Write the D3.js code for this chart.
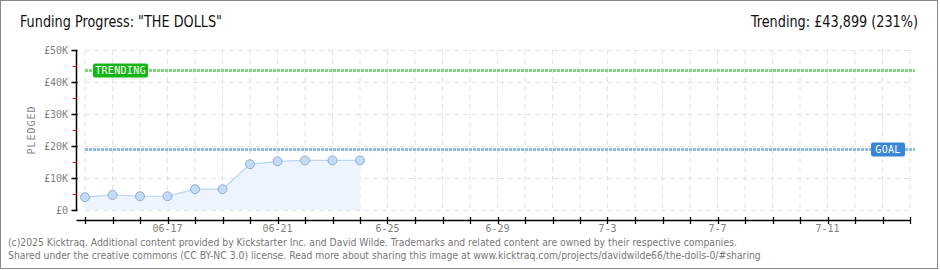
<!DOCTYPE html>
<html>
<head>
<meta charset="utf-8">
<script src="https://cdn.jsdelivr.net/npm/d3@7"></script>
<style>
  body { margin: 0; background: #fff; }
  svg { display: block; }
</style>
</head>
<body>
<svg class="vis" width="940" height="270"></svg>
<script>

// data
const days = d3.timeDays(new Date(2025, 5, 14), new Date(2025, 6, 15));
const pledged = [4000, 4700, 4300, 4300, 6500, 6500, 14300, 15200, 15500, 15500, 15500];
const goal = 19000;
const trending = 43899;
const yTicks = [0, 10000, 20000, 30000, 40000, 50000];
const yMinor = [5000, 15000, 25000, 35000, 45000];
const xLabels = [
    { day: new Date(2025, 5, 17), text: "06-17" },
    { day: new Date(2025, 5, 21), text: "06-21" },
    { day: new Date(2025, 5, 25), text: "6-25" },
    { day: new Date(2025, 5, 29), text: "6-29" },
    { day: new Date(2025, 6, 3), text: "7-3" },
    { day: new Date(2025, 6, 7), text: "7-7" },
    { day: new Date(2025, 6, 11), text: "7-11" }
];

const svg = d3.select("svg.vis");
const W = 940, H = 270;
const m = { left: 85, right: 910, top: 50, bottom: 210 };
const pxFont = "'DejaVu Sans Mono', monospace";
const headFont = "'DejaVu Sans Condensed', 'Liberation Sans Narrow', sans-serif";

// frame
svg.append("rect")
    .attr("x", 0.5).attr("y", 0.5)
    .attr("width", W - 3).attr("height", H - 2)
    .attr("fill", "#fff")
    .attr("stroke", "#888");

const x = d3.scaleTime()
    .domain([days[0], days[days.length - 1]])
    .range([m.left, m.right]);

const y = d3.scaleLinear()
    .domain([0, 50000])
    .range([m.bottom, m.top]);

// grid
const grid = svg.append("g")
    .attr("stroke", "#e2e2e2")
    .attr("stroke-dasharray", "5,4");

grid.selectAll("line.v")
    .data(days)
    .join("line")
    .attr("class", "v")
    .attr("x1", d => x(d)).attr("x2", d => x(d))
    .attr("y1", m.top).attr("y2", m.bottom);

grid.selectAll("line.h")
    .data(yTicks)
    .join("line")
    .attr("class", "h")
    .attr("x1", m.left).attr("x2", m.right)
    .attr("y1", d => y(d) + 0.5).attr("y2", d => y(d) + 0.5);

// area + line
const pts = pledged.map((v, i) => ({ day: days[i], v: v }));

svg.append("path")
    .datum(pts)
    .attr("fill", "#edf4fd")
    .attr("d", d3.area().x(d => x(d.day)).y0(y(0)).y1(d => y(d.v)));

svg.append("path")
    .datum(pts)
    .attr("fill", "none")
    .attr("stroke", "#b9d5f2")
    .attr("stroke-width", 1.2)
    .attr("d", d3.line().x(d => x(d.day)).y(d => y(d.v)));

// goal and trending lines
function refLine(val, color) {
    const yy = Math.round(y(val)) + 0.5;
    svg.append("line")
        .attr("x1", m.left).attr("x2", m.right + 5)
        .attr("y1", yy).attr("y2", yy)
        .attr("stroke", color)
        .attr("stroke-width", 3)
        .attr("stroke-dasharray", "3,1");
    return yy;
}

const yTrend = refLine(trending, "#80d680");
const yGoal = refLine(goal, "#8cbbea");

function badge(bx, by, w, text, color) {
    svg.append("rect")
        .attr("x", bx).attr("y", by - 7)
        .attr("width", w).attr("height", 14)
        .attr("rx", 2)
        .attr("fill", color);
    svg.append("text")
        .attr("x", bx + w / 2).attr("y", by + 3.5)
        .attr("text-anchor", "middle")
        .attr("fill", "#fff")
        .attr("font-family", pxFont)
        .attr("font-size", 10)
        .attr("letter-spacing", 0.3)
        .text(text);
}

badge(93, yTrend, 55, "TRENDING", "#14b514");
badge(871, yGoal, 34, "GOAL", "#3a86d6");

// points
svg.append("g")
    .selectAll("circle")
    .data(pts)
    .join("circle")
    .attr("cx", d => x(d.day))
    .attr("cy", d => y(d.v))
    .attr("r", 4.5)
    .attr("fill", "#c3dbf6")
    .attr("stroke", "#93aecb")
    .attr("stroke-width", 1);

// y axis
const yAx = 76.5;
svg.append("line")
    .attr("x1", yAx).attr("x2", yAx)
    .attr("y1", m.top).attr("y2", m.bottom + 0.5)
    .attr("stroke", "#000").attr("stroke-width", 1.5);

svg.append("g").selectAll("line")
    .data(yTicks)
    .join("line")
    .attr("x1", yAx - 5).attr("x2", yAx + 1)
    .attr("y1", d => y(d) + 0.5).attr("y2", d => y(d) + 0.5)
    .attr("stroke", "#000").attr("stroke-width", 1.5);

svg.append("g").selectAll("line")
    .data(yMinor)
    .join("line")
    .attr("x1", yAx - 4).attr("x2", yAx)
    .attr("y1", d => y(d) + 0.5).attr("y2", d => y(d) + 0.5)
    .attr("stroke", "#e00").attr("stroke-width", 1);

svg.append("g").selectAll("text")
    .data(yTicks)
    .join("text")
    .attr("x", 68)
    .attr("y", d => y(d) + 4)
    .attr("text-anchor", "end")
    .attr("fill", "#808080")
    .attr("font-family", pxFont)
    .attr("font-size", 10)
    .text(d => "£" + (d === 0 ? "0" : d / 1000 + "K"));

svg.append("text")
    .attr("transform", "translate(35,130) rotate(-90)")
    .attr("text-anchor", "middle")
    .attr("fill", "#888")
    .attr("font-family", pxFont)
    .attr("font-size", 10)
    .attr("letter-spacing", 1)
    .text("PLEDGED");

// x axis
const xAxY = 220.5;
svg.append("line")
    .attr("x1", yAx).attr("x2", m.right + 0.5)
    .attr("y1", xAxY).attr("y2", xAxY)
    .attr("stroke", "#000").attr("stroke-width", 1.5);

svg.append("g").selectAll("line")
    .data(days)
    .join("line")
    .attr("x1", d => Math.round(x(d)) + 0.5).attr("x2", d => Math.round(x(d)) + 0.5)
    .attr("y1", xAxY - 3.5).attr("y2", xAxY + 3.5)
    .attr("stroke", "#000").attr("stroke-width", 1.3);

svg.append("g").selectAll("text")
    .data(xLabels)
    .join("text")
    .attr("x", d => x(d.day))
    .attr("y", 232)
    .attr("text-anchor", "middle")
    .attr("fill", "#808080")
    .attr("font-family", pxFont)
    .attr("font-size", 10)
    .text(d => d.text);

// titles
svg.append("text")
    .attr("x", 20).attr("y", 27)
    .attr("fill", "#111")
    .attr("font-family", headFont)
    .attr("font-size", 15)
    .attr("textLength", 202)
    .attr("lengthAdjust", "spacingAndGlyphs")
    .text("Funding Progress: \"THE DOLLS\"");

svg.append("text")
    .attr("x", 751).attr("y", 27)
    .attr("fill", "#111")
    .attr("font-family", headFont)
    .attr("font-size", 15)
    .attr("textLength", 167)
    .attr("lengthAdjust", "spacingAndGlyphs")
    .text("Trending: £43,899 (231%)");

// footer
const foot = [
    "(c)2025 Kicktraq. Additional content provided by Kickstarter Inc. and David Wilde. Trademarks and related content are owned by their respective companies.",
    "Shared under the creative commons (CC BY-NC 3.0) license. Read more about sharing this image at www.kicktraq.com/projects/davidwilde66/the-dolls-0/#sharing"
];

svg.append("g").selectAll("text")
    .data(foot)
    .join("text")
    .attr("x", 8)
    .attr("y", (d, i) => 246 + i * 13)
    .attr("fill", "#777")
    .attr("font-family", "'DejaVu Sans Condensed', sans-serif")
    .attr("font-size", 10.3)
    .text(d => d);

</script>
</body>
</html>
